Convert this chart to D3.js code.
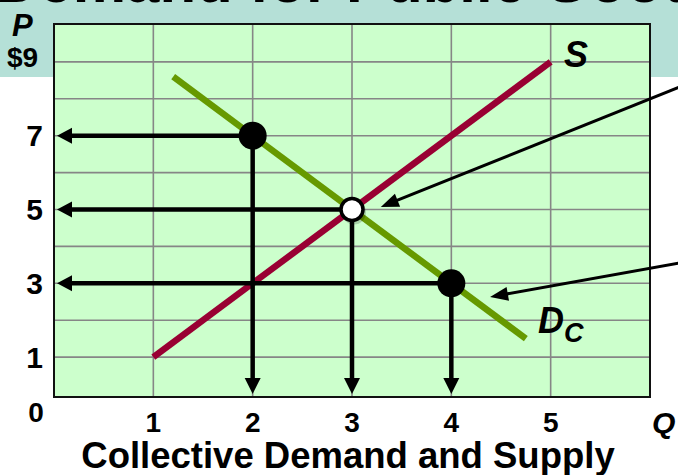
<!DOCTYPE html>
<html>
<head>
<meta charset="utf-8">
<script src="https://cdn.jsdelivr.net/npm/d3@7"></script>
<style>
  body { margin: 0; background: #fff; }
  svg { display: block; font-family: "Liberation Sans", Arial, sans-serif; font-weight: bold; }
</style>
</head>
<body>
<script>
// chart values
var qTicks = [1, 2, 3, 4, 5];
var pTicks = [1, 3, 5, 7, 9];
var pTickLabels = ["1", "3", "5", "7", "$9"];
var supplyQ = [1, 5];
var supplyP = [1, 9];
var demandQ = [1.2, 4.75];
var demandP = [8.6, 1.5];
var pointQ = [2, 3, 4];
var pointP = [7, 5, 3];
var pointOpen = [false, true, false];
// pointer arrows (start, tip) in chart units
var pointerFromQ = [6.3, 6.3];
var pointerFromP = [8.32, 3.55];
var pointerToQ = [3.29, 4.39];
var pointerToP = [5.07, 2.63];

var W = 678, H = 475;
var svg = d3.select("body").append("svg").attr("width", W).attr("height", H);

var x = d3.scaleLinear().domain([0, 6]).range([54, 650]);
var y = d3.scaleLinear().domain([0, 10]).range([394, 25]);

// teal title band (slide title cut off at the top)
svg.append("rect").attr("x", 0).attr("y", 0).attr("width", W).attr("height", 77).attr("fill", "#b5e0d7");
svg.append("text").attr("x", -4).attr("y", 2).attr("font-size", 60).attr("fill", "#000")
  .text("Demand for Public Goods");

// plot background
svg.append("rect").attr("x", x(0)).attr("y", y(10) - 1)
  .attr("width", x(6) - x(0)).attr("height", y(0) - y(10) + 4)
  .attr("fill", "#ccffcc");

// grid
svg.selectAll(".vgrid").data(qTicks).enter().append("line")
  .attr("x1", function(d) { return x(d); }).attr("x2", function(d) { return x(d); })
  .attr("y1", y(10)).attr("y2", y(0) + 2)
  .attr("stroke", "#868686").attr("stroke-width", 1.6);
svg.selectAll(".hgrid").data(d3.range(1, 10)).enter().append("line")
  .attr("x1", x(0)).attr("x2", x(6))
  .attr("y1", function(d) { return y(d); }).attr("y2", function(d) { return y(d); })
  .attr("stroke", "#868686").attr("stroke-width", 1.6);

// frame
svg.append("rect").attr("x", x(0)).attr("y", y(10) - 1)
  .attr("width", x(6) - x(0)).attr("height", y(0) - y(10) + 4)
  .attr("fill", "none").attr("stroke", "#111").attr("stroke-width", 2);

// tick labels
svg.selectAll(".plab").data(pTicks).enter().append("text")
  .attr("x", function(d, i) { return i == 4 ? 7 : 43; })
  .attr("y", function(d, i) { return i == 4 ? 67 : y(d) + 10.5; })
  .attr("text-anchor", function(d, i) { return i == 4 ? "start" : "end"; })
  .attr("font-size", function(d, i) { return i == 4 ? 28 : 30; })
  .text(function(d, i) { return pTickLabels[i]; });
svg.append("text").attr("x", 12).attr("y", 36).attr("font-size", 31).attr("font-style", "italic").text("P");
svg.append("text").attr("x", 36).attr("y", 422).attr("text-anchor", "middle").attr("font-size", 28).text("0");
svg.selectAll(".qlab").data(qTicks).enter().append("text")
  .attr("x", function(d) { return x(d); })
  .attr("y", 432)
  .attr("text-anchor", "middle").attr("font-size", 28)
  .text(function(d) { return d; });
svg.append("text").attr("x", 652).attr("y", 433).attr("font-size", 30).attr("font-style", "italic").text("Q");
svg.append("text").attr("x", 348).attr("y", 468).attr("text-anchor", "middle").attr("font-size", 36.5)
  .text("Collective Demand and Supply");

// curves
svg.append("line")
  .attr("x1", x(supplyQ[0])).attr("y1", y(supplyP[0]))
  .attr("x2", x(supplyQ[1])).attr("y2", y(supplyP[1]))
  .attr("stroke", "#990033").attr("stroke-width", 6.5);
svg.append("line")
  .attr("x1", x(demandQ[0])).attr("y1", y(demandP[0]))
  .attr("x2", x(demandQ[1])).attr("y2", y(demandP[1]))
  .attr("stroke", "#669900").attr("stroke-width", 6.5);

svg.append("text").attr("x", 564).attr("y", 67).attr("font-size", 36).attr("font-style", "italic").text("S");
var dl = svg.append("text").attr("x", 538).attr("y", 333).attr("font-size", 36).attr("font-style", "italic");
dl.append("tspan").text("D");
dl.append("tspan").attr("dy", 9).attr("font-size", 27).text("C");

// arrowhead helper
function head(tx, ty, dx, dy, len, half) {
  var n = Math.sqrt(dx * dx + dy * dy);
  var ux = dx / n, uy = dy / n;
  var bx = tx - ux * len, by = ty - uy * len;
  return "M" + tx + "," + ty + "L" + (bx - uy * half) + "," + (by + ux * half) +
    "L" + (bx + uy * half) + "," + (by - ux * half) + "Z";
}

// arrows from points to axes
pointQ.forEach(function(q, i) {
  var px = x(q), py = y(pointP[i]);
  var ax = x(0) + 3, ay = y(0);
  svg.append("line").attr("x1", px).attr("y1", py).attr("x2", ax + 12).attr("y2", py)
    .attr("stroke", "#000").attr("stroke-width", 4.5);
  svg.append("path").attr("d", head(ax, py, -1, 0, 15, 8)).attr("fill", "#000");
  svg.append("line").attr("x1", px).attr("y1", py).attr("x2", px).attr("y2", ay - 12)
    .attr("stroke", "#000").attr("stroke-width", 4.5);
  svg.append("path").attr("d", head(px, ay, 0, 1, 16, 8)).attr("fill", "#000");
});

// pointers from the right
pointerFromQ.forEach(function(q, i) {
  var x1 = x(q), y1 = y(pointerFromP[i]), x2 = x(pointerToQ[i]), y2 = y(pointerToP[i]);
  var dx = x2 - x1, dy = y2 - y1, n = Math.sqrt(dx * dx + dy * dy);
  svg.append("line").attr("x1", x1).attr("y1", y1)
    .attr("x2", x2 - dx / n * 14).attr("y2", y2 - dy / n * 14)
    .attr("stroke", "#000").attr("stroke-width", 3);
  svg.append("path").attr("d", head(x2, y2, dx, dy, 18, 7)).attr("fill", "#000");
});

// points
pointQ.forEach(function(q, i) {
  if (pointOpen[i]) {
    svg.append("circle").attr("cx", x(q) + 2).attr("cy", y(pointP[i]) + 3).attr("r", 12)
      .attr("fill", "#000").attr("opacity", 0.18);
    svg.append("circle").attr("cx", x(q)).attr("cy", y(pointP[i])).attr("r", 11)
      .attr("fill", "#fff").attr("stroke", "#000").attr("stroke-width", 3.5);
  } else {
    svg.append("circle").attr("cx", x(q)).attr("cy", y(pointP[i])).attr("r", 14).attr("fill", "#000");
  }
});
</script>
</body>
</html>
